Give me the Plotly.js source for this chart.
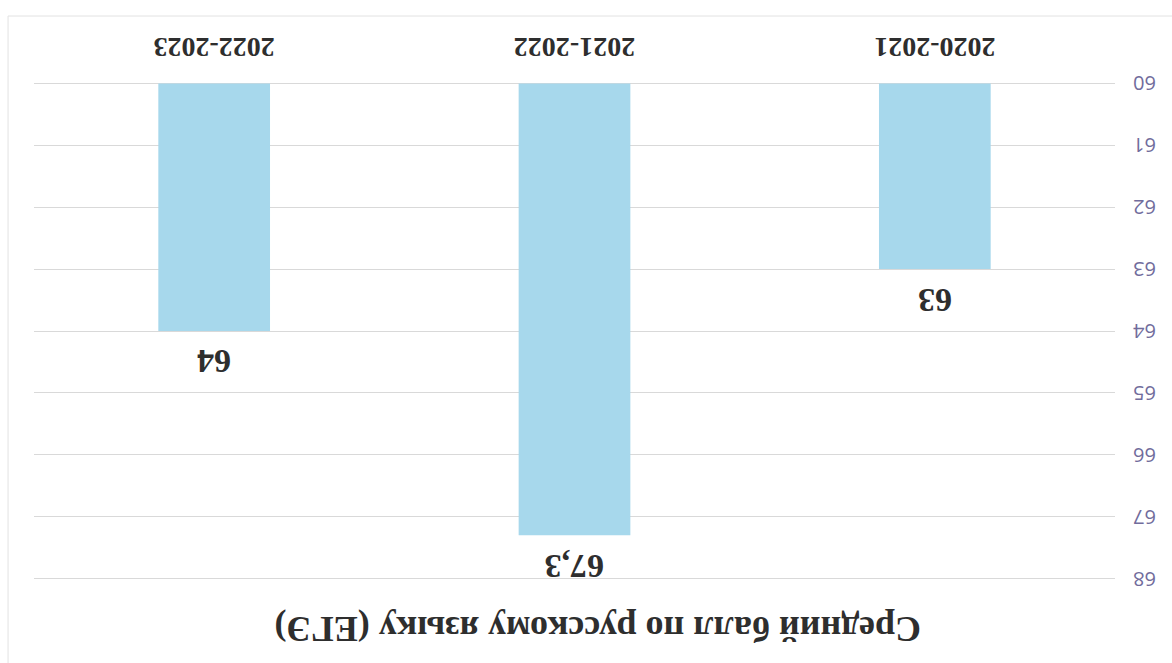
<!DOCTYPE html>
<html>
<head>
<meta charset="utf-8">
<script src="https://cdn.plot.ly/plotly-3.0.1.min.js"></script>
<style>
  html, body { margin: 0; padding: 0; background: #ffffff; overflow: hidden; }
  #chart { width: 1172px; height: 663px; transform: rotate(180deg); transform-origin: 50% 50%; }
</style>
</head>
<body>
<div id="chart"></div>
<script>
const categories = ["2020-2021", "2021-2022", "2022-2023"];
const values = [63, 67.3, 64];
const valueLabels = ["63", "67,3", "64"];
const yTicks = [60, 61, 62, 63, 64, 65, 66, 67, 68];
const chartTitle = "Средний балл по русскому языку (ЕГЭ)";

const serif = "Liberation Serif, Times New Roman, serif";
const textColor = "#2e2e2e";

const trace = {
  type: "bar",
  x: categories,
  y: values.map(v => v - 60),
  base: 60,
  marker: { color: "#a7d8ec", line: { width: 0 } },
  width: 0.31,
  hoverinfo: "none"
};

const labelAnnotations = categories.map((c, i) => ({
  x: c, y: values[i], xref: "x", yref: "y",
  text: valueLabels[i], showarrow: false,
  xanchor: "center", yanchor: "middle", yshift: 31,
  font: { family: serif, size: 34, color: textColor, weight: "bold" }
}));

const layout = {
  width: 1172,
  height: 663,
  margin: { l: 57, r: 34, t: 82, b: 81 },
  paper_bgcolor: "#ffffff",
  plot_bgcolor: "#ffffff",
  showlegend: false,
  title: {
    text: chartTitle,
    font: { family: serif, size: 36, color: textColor, weight: "bold" },
    x: 0.49, xref: "container", xanchor: "center",
    y: 0.95, yref: "container", yanchor: "middle"
  },
  xaxis: {
    type: "category",
    showgrid: false,
    zeroline: false,
    showline: false,
    ticks: "",
    ticklabelstandoff: 14,
    tickfont: { family: serif, size: 28, color: textColor, weight: "bold" }
  },
  yaxis: {
    range: [59.96, 68.04],
    tickvals: yTicks,
    ticktext: yTicks.map(String),
    showgrid: true,
    gridcolor: "#d9d9d9",
    gridwidth: 1,
    zeroline: false,
    showline: false,
    ticks: "",
    ticklabelstandoff: 17,
    tickfont: { family: "Open Sans, sans-serif", size: 20, color: "#716c9c" }
  },
  annotations: labelAnnotations,
  shapes: [
    { type: "rect", xref: "paper", yref: "paper", x0: -0.2, x1: 1.024, y0: -0.13, y1: 1.4,
      line: { color: "#e2e2e2", width: 1 }, fillcolor: "rgba(0,0,0,0)", layer: "below" }
  ]
};

Plotly.newPlot("chart", [trace], layout, { staticPlot: true, displayModeBar: false });
</script>
</body>
</html>
